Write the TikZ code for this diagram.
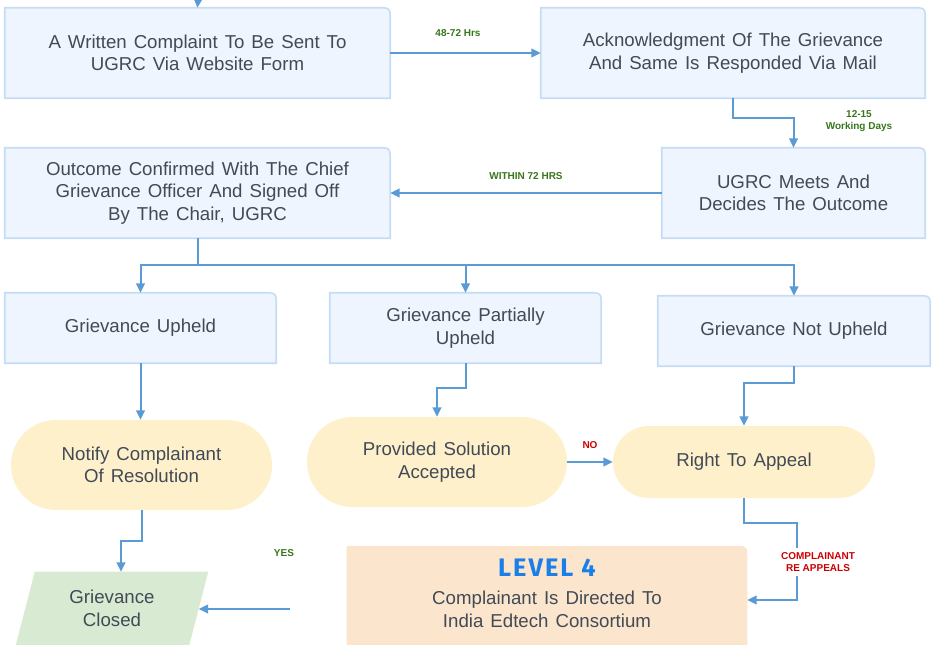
\documentclass[tikz,border=0pt]{standalone}
\usepackage{fontspec}
\setmainfont{Liberation Sans}[WordSpace=1.35]
\newfontfamily\levelfont{Fira Sans}[LetterSpace=8]
\newfontfamily\tagfont{Liberation Sans}
\usetikzlibrary{arrows.meta,backgrounds}

\definecolor{boxfill}{HTML}{EEF5FE}
\definecolor{boxline}{HTML}{C6DCF5}
\definecolor{pillfill}{HTML}{FFF0CC}
\definecolor{closedfill}{HTML}{D9EAD3}
\definecolor{levelfill}{HTML}{FCE5CD}
\definecolor{flowblue}{HTML}{5B9BD5}
\definecolor{textgray}{HTML}{414A55}
\definecolor{okgreen}{HTML}{38761D}
\definecolor{nored}{HTML}{CC0000}
\definecolor{levelblue}{HTML}{1A7FE8}

\tikzset{
  tabbox/.style={rectangle, inner sep=0pt, align=center, text=textgray, font=\fontsize{14}{16.8}\selectfont},
  pill/.style={tabbox, fill=pillfill, rounded corners=#1},
  tabshape/.style={fill=boxfill, draw=boxline, line width=1.2pt},
  flow/.style={draw=flowblue, line width=1.5pt, -{Triangle[length=7pt,width=6.5pt]}},
  timing/.style={font=\tagfont\fontsize{7.5}{9.5}\selectfont\bfseries, text=okgreen, align=center},
  answer/.style={timing, text=nored}
}

\begin{document}
\begin{tikzpicture}[x=0.75pt,y=0.75pt,yscale=-1,xscale=1]
\useasboundingbox (0,0) rectangle (934,645);

% Boxes
\node[tabbox, minimum width=288.75pt, minimum height=67.5pt] (written) at (197.5,53) {A Written Complaint To Be Sent To\\UGRC Via Website Form};
\node[tabbox, minimum width=288pt, minimum height=67.5pt] (ack) at (733,53) {Acknowledgment Of The Grievance\\And Same Is Responded Via Mail};
\node[tabbox, minimum width=197.25pt, minimum height=67.5pt] (meets) at (793.5,193) {UGRC Meets And\\Decides The Outcome};
\node[tabbox, minimum width=288.75pt, minimum height=67.5pt] (outcome) at (197.5,193) {Outcome Confirmed With The Chief\\Grievance Officer And Signed Off\\By The Chair, UGRC};
\node[tabbox, minimum width=203.25pt, minimum height=52.5pt] (upheld) at (140.5,328) {Grievance Upheld};
\node[tabbox, minimum width=203.25pt, minimum height=52.5pt] (partial) at (465.5,328) {Grievance Partially\\Upheld};
\node[tabbox, minimum width=204pt, minimum height=52.5pt] (notupheld) at (794,331) {Grievance Not Upheld};

% Pills
\node[pill=33.75pt, minimum width=195.75pt, minimum height=67.5pt] (notify) at (141.5,465) {Notify Complainant\\Of Resolution};
\node[pill=33.75pt, minimum width=195pt, minimum height=67.5pt] (solution) at (437,462) {Provided Solution\\Accepted};
\node[pill=27pt, minimum width=196.5pt, minimum height=54pt] (appeal) at (744,462) {Right To Appeal};

% End boxes
\node[tabbox, minimum width=129.75pt, minimum height=54.75pt] (closed) at (112,608.5) {Grievance\\Closed};
\node[tabbox, minimum width=300pt, minimum height=74.25pt] (level) at (547,593) {{\levelfont\fontsize{19}{22}\selectfont\bfseries\color{levelblue}LEVEL 4}\\[4.5pt]Complainant Is Directed To\\India Edtech Consortium};

\begin{pgfonlayer}{background}
\foreach \n in {written,ack,meets,outcome,upheld,partial,notupheld}
  \filldraw[tabshape] (\n.south west) -- (\n.north west) -- ([xshift=-10pt]\n.north east) .. controls (\n.north east) .. ([yshift=10pt]\n.north east) -- (\n.south east) -- cycle;
\fill[levelfill] ([yshift=3pt]level.south west) -- ([yshift=2pt]level.north west) -- ([xshift=-10pt,yshift=2pt]level.north east) .. controls ([yshift=2pt]level.north east) .. ([yshift=12pt]level.north east) -- ([yshift=3pt]level.south east) -- cycle;
\fill[closedfill] ([xshift=7.125pt]closed.north west) -- ([xshift=7.125pt]closed.north east) -- ([xshift=-7.125pt]closed.south east) -- ([xshift=-7.125pt]closed.south west) -- cycle;
\end{pgfonlayer}

% Connectors
\coordinate (entry) at (198,0);
\coordinate (bend) at (797,600);
\coordinate (yesfrom) at (290,609);
\draw[flow] (entry) -- (written.north);
\draw[flow] (written) -- (ack);
\draw[flow] (ack.south) -- ++(0,20) -| (meets.north);
\draw[flow] (meets) -- (outcome);
\draw[flow] (outcome.south) -- ++(0,27) -| (upheld.north);
\draw[flow] (outcome.south) -- ++(0,27) -| (partial.north);
\draw[flow] (outcome.south) -- ++(0,27) -| (notupheld.north);
\draw[flow] (upheld.south) -- (upheld.south |- notify.north);
\draw[flow] (partial.south) -- ++(0,25) -| (solution.north);
\draw[flow] (notupheld.south) -- ++(0,17) -| (appeal.north);
\draw[flow] (solution) -- (appeal);
\draw[flow] (notify.south) -- ++(0,31) -| ([xshift=6.75pt]closed.north);
\draw[flow] (appeal.south) -- ++(0,25) -| (bend) -- (level.east |- bend);
\draw[flow] (yesfrom) -- (closed.east |- yesfrom);

% Text Node
\node[timing] (hrs) at (458,33) {48-72 Hrs};
\node[timing] (days) at (859,121) {12-15\\Working Days};
\node[timing] (within) at (526,176) {WITHIN 72 HRS};
\node[answer] (no) at (590,445) {NO};
\node[answer, fill=white] (reappeal) at (818,562) {COMPLAINANT\\RE APPEALS};
\node[timing] (yes) at (284,553) {YES};

\end{tikzpicture}
\end{document}
